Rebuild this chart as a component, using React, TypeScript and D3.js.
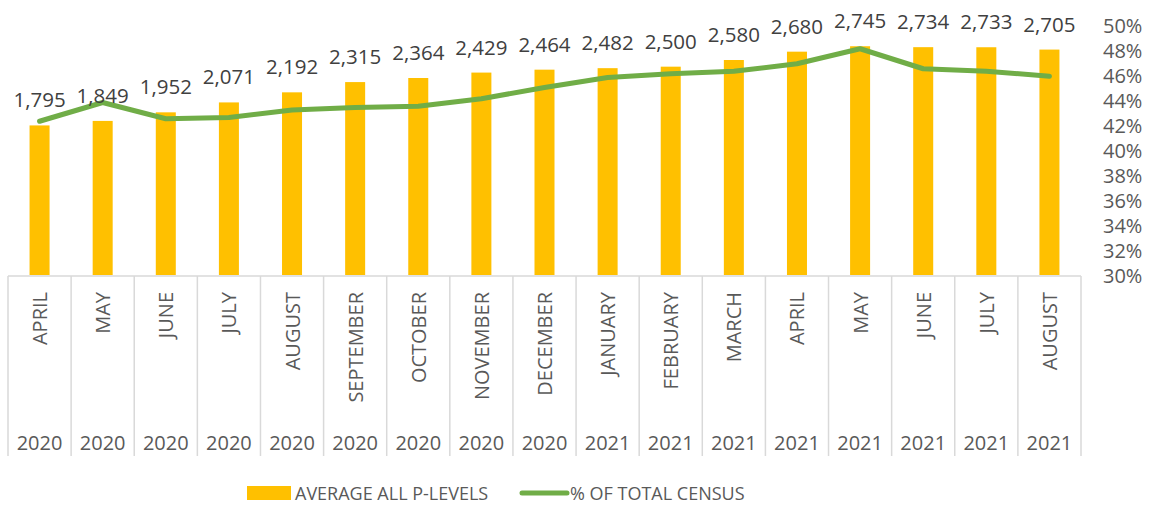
import { useEffect, useRef } from 'react';
import * as d3 from 'd3';

const months = [
  'APRIL', 'MAY', 'JUNE', 'JULY', 'AUGUST', 'SEPTEMBER', 'OCTOBER', 'NOVEMBER', 'DECEMBER',
  'JANUARY', 'FEBRUARY', 'MARCH', 'APRIL', 'MAY', 'JUNE', 'JULY', 'AUGUST'
];
const years = [
  '2020', '2020', '2020', '2020', '2020', '2020', '2020', '2020', '2020',
  '2021', '2021', '2021', '2021', '2021', '2021', '2021', '2021'
];
const avgPLevels = [1795, 1849, 1952, 2071, 2192, 2315, 2364, 2429, 2464, 2482, 2500, 2580, 2680, 2745, 2734, 2733, 2705];
const pctOfCensus = [0.423, 0.438, 0.425, 0.426, 0.432, 0.434, 0.435, 0.441, 0.45, 0.458, 0.461, 0.463, 0.469, 0.481, 0.465, 0.463, 0.459];
const pctTicks = [0.3, 0.32, 0.34, 0.36, 0.38, 0.4, 0.42, 0.44, 0.46, 0.48, 0.5];

const WIDTH = 1154;
const HEIGHT = 506;
const plot = { left: 8, right: 1081, top: 25, bottom: 275 };
const FONT = '"Open Sans", sans-serif';
const BAR_COLOR = '#FFC000';
const LINE_COLOR = '#70AD47';
const GRID_COLOR = '#D9D9D9';

export default function App() {
  const ref = useRef<SVGSVGElement>(null);

  useEffect(() => {
    const svg = d3.select(ref.current);
    svg.selectAll('*').remove();

    const idx = months.map((_, i) => String(i));
    const x = d3.scaleBand().domain(idx).range([plot.left, plot.right]);
    const yBar = d3.scaleLinear().domain([0, 3000]).range([plot.bottom, plot.top]);
    const yPct = d3.scaleLinear().domain([0.3, 0.5]).range([plot.bottom, plot.top]);
    const barW = x.bandwidth() * 0.317;
    const cx = (i: number) => x(String(i))! + x.bandwidth() / 2;

    // category axis frame
    const axisG = svg.append('g');
    const axisTop = plot.bottom + 1;
    axisG
      .append('line')
      .attr('x1', plot.left)
      .attr('x2', plot.right)
      .attr('y1', axisTop)
      .attr('y2', axisTop)
      .attr('stroke', GRID_COLOR)
      .attr('stroke-width', 1.5);
    axisG
      .selectAll('line.sep')
      .data(d3.range(months.length + 1))
      .enter()
      .append('line')
      .attr('class', 'sep')
      .attr('x1', (i) => plot.left + i * x.bandwidth())
      .attr('x2', (i) => plot.left + i * x.bandwidth())
      .attr('y1', axisTop)
      .attr('y2', 456)
      .attr('stroke', GRID_COLOR)
      .attr('stroke-width', 1.5);

    // bars
    svg
      .append('g')
      .selectAll('rect')
      .data(avgPLevels)
      .enter()
      .append('rect')
      .attr('x', (_, i) => cx(i) - barW / 2)
      .attr('y', (d) => yBar(d))
      .attr('width', barW)
      .attr('height', (d) => yBar(0) - yBar(d))
      .attr('fill', BAR_COLOR);

    // line
    const line = d3
      .line<number>()
      .x((_, i) => cx(i))
      .y((d) => yPct(d));
    svg
      .append('path')
      .datum(pctOfCensus)
      .attr('d', line)
      .attr('fill', 'none')
      .attr('stroke', LINE_COLOR)
      .attr('stroke-width', 5)
      .attr('stroke-linecap', 'round')
      .attr('stroke-linejoin', 'round');

    // value labels
    svg
      .append('g')
      .selectAll('text')
      .data(avgPLevels)
      .enter()
      .append('text')
      .attr('x', (_, i) => cx(i))
      .attr('y', (d) => yBar(d) - 26)
      .attr('text-anchor', 'middle')
      .attr('dominant-baseline', 'central')
      .attr('font-family', FONT)
      .attr('font-size', 20.5)
      .attr('fill', '#404040')
      .text((d) => d3.format(',')(d));

    // month labels
    svg
      .append('g')
      .selectAll('text')
      .data(months)
      .enter()
      .append('text')
      .attr('transform', (_, i) => `translate(${cx(i)},292) rotate(-90)`)
      .attr('text-anchor', 'end')
      .attr('dominant-baseline', 'central')
      .attr('font-family', FONT)
      .attr('font-size', 20)
      .attr('fill', '#595959')
      .text((d) => d);

    // year labels
    svg
      .append('g')
      .selectAll('text')
      .data(years)
      .enter()
      .append('text')
      .attr('x', (_, i) => cx(i))
      .attr('y', 442)
      .attr('text-anchor', 'middle')
      .attr('dominant-baseline', 'central')
      .attr('font-family', FONT)
      .attr('font-size', 20)
      .attr('fill', '#595959')
      .text((d) => d);

    // right axis
    svg
      .append('g')
      .selectAll('text')
      .data(pctTicks)
      .enter()
      .append('text')
      .attr('x', 1103)
      .attr('y', (d) => yPct(d))
      .attr('dominant-baseline', 'central')
      .attr('font-family', FONT)
      .attr('font-size', 20)
      .attr('fill', '#595959')
      .text((d) => d3.format('.0%')(d));

    // legend
    const legend = svg.append('g').attr('font-family', FONT).attr('font-size', 18).attr('fill', '#595959');
    legend.append('rect').attr('x', 247).attr('y', 486).attr('width', 44).attr('height', 14).attr('fill', BAR_COLOR);
    legend.append('text').attr('x', 295).attr('y', 493).attr('dominant-baseline', 'central').text('AVERAGE ALL P-LEVELS');
    legend
      .append('line')
      .attr('x1', 522)
      .attr('x2', 567)
      .attr('y1', 493)
      .attr('y2', 493)
      .attr('stroke', LINE_COLOR)
      .attr('stroke-width', 5)
      .attr('stroke-linecap', 'round');
    legend.append('text').attr('x', 570).attr('y', 493).attr('dominant-baseline', 'central').text('% OF TOTAL CENSUS');
  }, []);

  return (
    <svg
      ref={ref}
      width={WIDTH}
      height={HEIGHT}
      style={{ position: 'absolute', left: 0, top: 0, background: '#fff' }}
    />
  );
}
